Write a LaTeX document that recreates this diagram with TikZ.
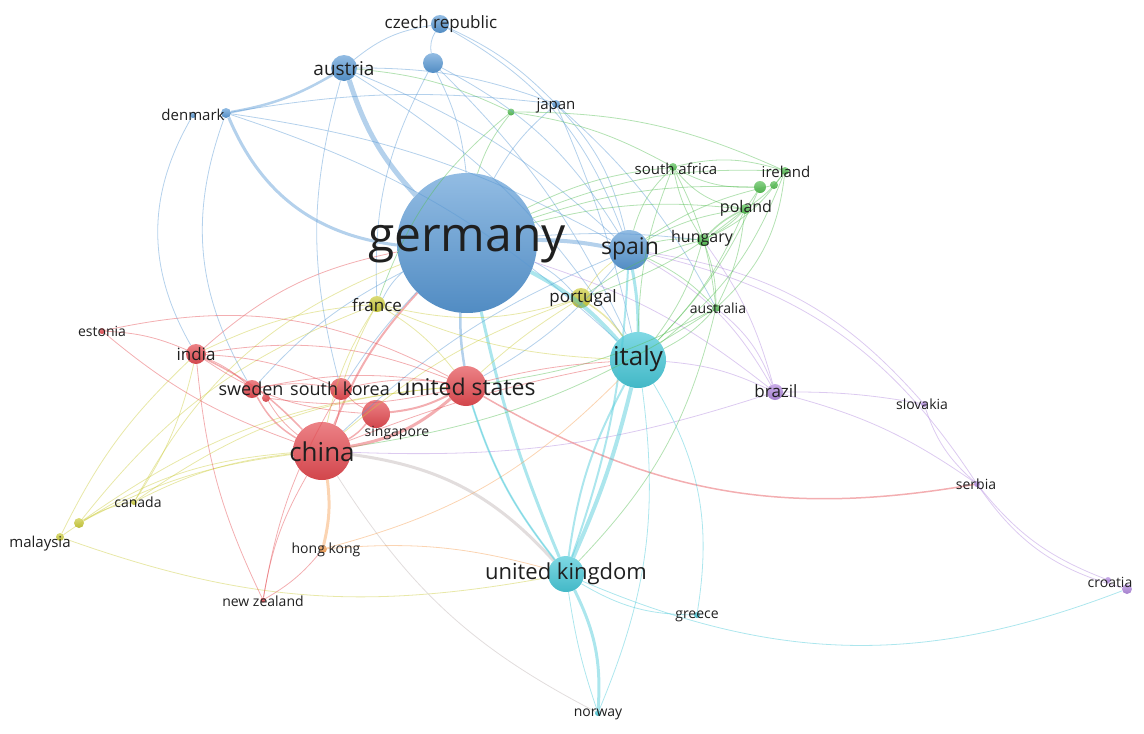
\documentclass[tikz,border=0pt]{standalone}
\usepackage{fontspec}
\setmainfont{Open Sans}
\usepackage{xcolor}
\usepackage{tikz}
\usetikzlibrary{positioning}

\definecolor{cblue}{RGB}{88,152,212}
\definecolor{cred}{RGB}{228,76,82}
\definecolor{cgreen}{RGB}{86,190,84}
\definecolor{cyell}{RGB}{204,204,62}
\definecolor{ccyan}{RGB}{72,200,216}
\definecolor{cpurp}{RGB}{178,138,222}
\definecolor{corange}{RGB}{246,160,84}
\definecolor{cgray}{RGB}{190,180,180}

\begin{document}
\begin{tikzpicture}[x=1pt, y=-1pt,
    bub/.style={circle, inner sep=0pt, minimum size=#1pt},
    nblue/.style={top color=cblue!65!white, bottom color=cblue!92!black},
    nred/.style={top color=cred!70!white, bottom color=cred!92!black},
    ngreen/.style={top color=cgreen!70!white, bottom color=cgreen!92!black},
    nyell/.style={top color=cyell!70!white, bottom color=cyell!92!black},
    ncyan/.style={top color=ccyan!70!white, bottom color=ccyan!92!black},
    npurp/.style={top color=cpurp!70!white, bottom color=cpurp!92!black},
    norange/.style={top color=corange!70!white, bottom color=corange!92!black},
    ed/.style={draw=#1, draw opacity=0.45, line width=0.8pt},
    lab/.style={inner sep=0pt, text=black!88, font=\fontsize{#1}{#1}\selectfont}]

    \useasboundingbox (0,0) rectangle (1144,734);

    \node [bub=140, nblue] (germany) at (467,243) {};
    \node [bub=18, nblue] (czech) at (440,24) {};
    \node [bub=20, nblue] (anon) at (433,63) {};
    \node [bub=26, nblue] (austria) at (344,68) {};
    \node [bub=10, nblue] (denmark) at (226,113) {};
    \node [bub=6, nblue] (denmarkb) at (193,115) {};
    \node [bub=8, nblue] (japan) at (556,104) {};
    \node [bub=40, nblue] (spain) at (629,250) {};
    \node [bub=7, ngreen] (greenj) at (511,112) {};
    \node [bub=8, ngreen] (safrica) at (673,167) {};
    \node [bub=8, ngreen] (ireland) at (785,171) {};
    \node [bub=12, ngreen] (irelandb) at (760,187) {};
    \node [bub=8, ngreen] (irelandc) at (774,185) {};
    \node [bub=10, ngreen] (poland) at (745,209) {};
    \node [bub=12, ngreen] (hungary) at (703,240) {};
    \node [bub=8, ngreen] (australia) at (716,308) {};
    \node [bub=20, nyell] (portugal) at (581,298) {};
    \node [bub=16, nyell] (france) at (377,304) {};
    \node [bub=6, nyell] (canada) at (134,502) {};
    \node [bub=8, nyell] (malaysia) at (60,537) {};
    \node [bub=10, nyell] (malaysiab) at (79,523) {};
    \node [bub=6, nred] (estonia) at (102,331) {};
    \node [bub=20, nred] (india) at (196,354) {};
    \node [bub=18, nred] (sweden) at (252,389) {};
    \node [bub=8, nred] (swedenb) at (266,398) {};
    \node [bub=22, nred] (skorea) at (341,389) {};
    \node [bub=40, nred] (usa) at (466,386) {};
    \node [bub=28, nred] (singapore) at (376,414) {};
    \node [bub=58, nred] (china) at (322,451) {};
    \node [bub=5, nred] (nzealand) at (263,600) {};
    \node [bub=8, norange] (hongkong) at (323,549) {};
    \node [bub=56, ncyan] (italy) at (638,360) {};
    \node [bub=36, ncyan] (uk) at (566,574) {};
    \node [bub=6, ncyan] (greece) at (697,615) {};
    \node [bub=6, ncyan] (norway) at (598,713) {};
    \node [bub=16, npurp] (brazil) at (775,392) {};
    \node [bub=6, npurp] (slovakia) at (924,404) {};
    \node [bub=6, npurp] (serbia) at (977,484) {};
    \node [bub=10, npurp] (croatia) at (1127,589) {};
    \node [bub=6, npurp] (croatiab) at (1108,580) {};

    \draw [ed=cblue] (austria) to[bend left=15] (czech);
    \draw [ed=cblue, line width=2.5pt] (denmark) to[bend right=10] (austria);
    \draw [ed=cblue, line width=5pt] (austria) to[bend right=12] (germany);
    \draw [ed=cblue, line width=3pt] (denmark) to[bend right=30] (germany);
    \draw [ed=cblue] (denmarkb) to[bend right=30] (india);
    \draw [ed=cblue] (denmark) to[bend right=25] (sweden);
    \draw [ed=cblue] (denmark) to[bend left=10] (spain);
    \draw [ed=cblue] (denmark) to[bend left=8] (japan);
    \draw [ed=cblue] (denmark) to[bend left=12] (italy);
    \draw [ed=cblue] (czech) to[bend right=20] (anon);
    \draw [ed=cblue] (czech) to[bend left=20] (spain);
    \draw [ed=cblue] (czech) to[bend left=10] (japan);
    \draw [ed=cblue] (anon) to[bend left=10] (germany);
    \draw [ed=cblue] (anon) to[bend left=15] (spain);
    \draw [ed=cblue] (anon) to[bend right=15] (france);
    \draw [ed=cblue] (anon) to[bend left=10] (italy);
    \draw [ed=cblue] (austria) to[bend left=10] (spain);
    \draw [ed=cblue] (austria) to[bend left=12] (italy);
    \draw [ed=cblue] (austria) to[bend left=10] (japan);
    \draw [ed=cblue] (austria) to[bend right=15] (skorea);
    \draw [ed=cblue] (japan) to[bend right=10] (germany);
    \draw [ed=cblue] (japan) to[bend left=15] (spain);
    \draw [ed=cblue] (japan) to[bend left=5] (italy);
    \draw [ed=cblue] (japan) to[bend left=10] (australia);
    \draw [ed=cblue, line width=4pt] (germany) to[bend left=5] (spain);
    \draw [ed=ccyan, line width=4pt] (germany) to[bend left=10] (italy);
    \draw [ed=ccyan, line width=3pt] (germany) to[bend right=5] (uk);
    \draw [ed=cblue, line width=2.5pt] (germany) to[bend right=5] (usa);
    \draw [ed=cred, line width=2pt] (germany) to[bend right=10] (china);
    \draw [ed=cblue] (germany) to[bend right=10] (france);
    \draw [ed=cblue] (germany) to[bend left=10] (portugal);
    \draw [ed=cblue] (germany) to[bend left=5] (hungary);
    \draw [ed=cgreen] (germany) to[bend left=10] (safrica);
    \draw [ed=cgreen] (germany) to[bend left=10] (poland);
    \draw [ed=cblue] (germany) to[bend right=10] (sweden);
    \draw [ed=cred] (germany) to[bend right=15] (india);
    \draw [ed=cblue] (germany) to[bend right=5] (skorea);
    \draw [ed=cpurp] (germany) to[bend left=10] (brazil);
    \draw [ed=cgreen] (germany) to[bend left=12] (ireland);
    \draw [ed=ccyan, line width=3pt] (spain) to[bend left=5] (italy);
    \draw [ed=ccyan, line width=2pt] (spain) to[bend left=8] (uk);
    \draw [ed=cyell] (spain) to[bend right=10] (portugal);
    \draw [ed=cgreen] (spain) to[bend left=10] (hungary);
    \draw [ed=cgreen] (spain) to[bend left=10] (australia);
    \draw [ed=cgreen] (spain) to[bend left=10] (poland);
    \draw [ed=cgreen] (spain) to[bend left=15] (safrica);
    \draw [ed=cblue] (spain) to[bend left=10] (usa);
    \draw [ed=cblue] (spain) to[bend right=10] (china);

    \draw [ed=cpurp] (spain) to[bend left=20] (slovakia);
    \draw [ed=cpurp] (spain) to[bend left=22] (serbia);
    \draw [ed=cpurp] (brazil) to[bend left=5] (slovakia);
    \draw [ed=cpurp] (brazil) to[bend left=10] (serbia);
    \draw [ed=cpurp] (slovakia) to[bend right=15] (serbia);
    \draw [ed=cpurp] (serbia) to[bend right=20] (croatia);
    \draw [ed=cpurp] (serbia) to[bend right=15] (croatiab);
    \draw [ed=cpurp] (brazil) to[bend right=15] (australia);
    \draw [ed=cpurp] (brazil) to[bend right=10] (italy);
    \draw [ed=cpurp] (brazil) to[bend left=10] (china);
    \draw [ed=cpurp] (brazil) to[bend right=15] (spain);
    \draw [ed=cpurp] (hungary) to[bend left=10] (brazil);
    \draw [ed=cred, line width=1.5pt] (usa) to[bend right=20] (serbia);

    \draw [ed=cgreen] (greenj) to[bend left=10] (safrica);
    \draw [ed=cgreen] (greenj) to[bend left=12] (ireland);
    \draw [ed=cgreen] (greenj) to[bend right=10] (germany);
    \draw [ed=cgreen] (greenj) to[bend right=15] (france);
    \draw [ed=cgreen] (greenj) to[bend right=10] (austria);
    \draw [ed=cgreen] (safrica) to[bend left=15] (ireland);
    \draw [ed=cgreen] (safrica) to[bend right=15] (irelandb);
    \draw [ed=cgreen] (safrica) to[bend right=20] (poland);
    \draw [ed=cgreen] (safrica) to[bend right=10] (hungary);
    \draw [ed=cgreen] (safrica) to[bend right=10] (italy);
    \draw [ed=cgreen] (safrica) to[bend left=10] (australia);
    \draw [ed=cgreen] (ireland) to[bend left=10] (poland);
    \draw [ed=cgreen] (ireland) to[bend left=15] (hungary);
    \draw [ed=cgreen] (ireland) to[bend left=20] (australia);
    \draw [ed=cgreen] (ireland) to[bend left=15] (italy);
    \draw [ed=cgreen] (irelandb) to[bend left=15] (hungary);
    \draw [ed=cgreen] (irelandb) to[bend left=10] (italy);
    \draw [ed=cgreen] (irelandb) to[bend right=10] (germany);
    \draw [ed=cgreen] (irelandc) to[bend right=10] (spain);
    \draw [ed=cgreen, line width=1.5pt] (poland) to[bend right=10] (hungary);
    \draw [ed=cgreen] (poland) to[bend left=10] (italy);
    \draw [ed=cgreen] (poland) to[bend left=10] (australia);
    \draw [ed=cgreen] (poland) to[bend left=10] (portugal);
    \draw [ed=cgreen] (hungary) to[bend left=10] (italy);
    \draw [ed=cgreen] (hungary) to[bend left=10] (australia);
    \draw [ed=cgreen] (hungary) to[bend right=10] (portugal);
    \draw [ed=cgreen] (australia) to[bend left=10] (italy);
    \draw [ed=cgreen] (australia) to[bend left=15] (uk);
    \draw [ed=cgreen] (australia) to[bend left=10] (usa);
    \draw [ed=cgreen] (australia) to[bend left=12] (china);

    \draw [ed=cyell] (france) to[bend right=10] (china);
    \draw [ed=cyell] (france) to[bend right=15] (portugal);
    \draw [ed=cyell] (france) to[bend left=10] (usa);
    \draw [ed=cyell] (france) to[bend right=10] (italy);
    \draw [ed=cyell] (france) to[bend right=5] (skorea);
    \draw [ed=cyell] (france) to[bend right=10] (india);
    \draw [ed=cyell, line width=1.5pt] (portugal) to[bend left=10] (italy);
    \draw [ed=cyell] (portugal) to[bend right=10] (china);
    \draw [ed=cyell] (portugal) to[bend right=5] (usa);
    \draw [ed=cyell] (canada) to[bend left=10] (china);
    \draw [ed=cyell] (canada) to[bend right=10] (india);
    \draw [ed=cyell] (canada) to[bend left=15] (usa);
    \draw [ed=cyell] (canada) to[bend right=10] (malaysiab);
    \draw [ed=cyell] (canada) to[bend left=20] (germany);
    \draw [ed=cyell] (malaysia) to[bend left=15] (china);
    \draw [ed=cyell] (malaysia) to[bend right=15] (uk);
    \draw [ed=cyell] (malaysia) to[bend left=10] (india);
    \draw [ed=cyell] (malaysiab) to[bend left=10] (china);
    \draw [ed=cyell] (malaysiab) to[bend left=15] (france);
    \draw [ed=cyell] (malaysiab) to[bend left=15] (usa);

    \draw [ed=cred] (estonia) to[bend left=10] (india);
    \draw [ed=cred] (estonia) to[bend left=20] (usa);
    \draw [ed=cred] (estonia) to[bend right=10] (china);
    \draw [ed=cred, line width=1.5pt] (india) to[bend left=10] (china);
    \draw [ed=cred] (india) to[bend left=15] (usa);
    \draw [ed=cred] (india) to[bend left=10] (sweden);
    \draw [ed=cred] (india) to[bend right=10] (nzealand);
    \draw [ed=cred] (india) to[bend right=15] (singapore);
    \draw [ed=cred] (india) to[bend left=10] (skorea);
    \draw [ed=cred, line width=1.5pt] (sweden) to[bend right=15] (china);
    \draw [ed=cred] (sweden) to[bend left=10] (usa);
    \draw [ed=cred] (sweden) to[bend left=10] (skorea);
    \draw [ed=cred] (swedenb) to[bend right=10] (china);
    \draw [ed=cred] (swedenb) to[bend right=10] (usa);
    \draw [ed=cred] (skorea) to[bend left=10] (china);
    \draw [ed=cred] (skorea) to[bend left=10] (usa);
    \draw [ed=cred] (skorea) to[bend right=10] (singapore);
    \draw [ed=cred, line width=3pt] (usa) to[bend left=15] (china);
    \draw [ed=cred, line width=2pt] (usa) to[bend left=10] (singapore);
    \draw [ed=cred] (usa) to[bend left=5] (italy);
    \draw [ed=ccyan] (usa) to[bend right=10] (uk);
    \draw [ed=cred, line width=1.5pt] (singapore) to[bend left=10] (china);
    \draw [ed=corange, line width=3pt] (china) to[bend left=10] (hongkong);
    \draw [ed=cred] (china) to[bend right=10] (nzealand);
    \draw [ed=cgray, line width=3pt] (china) to[bend left=20] (uk);
    \draw [ed=cred] (china) to[bend left=5] (italy);
    \draw [ed=cgray] (china) to[bend right=15] (norway);
    \draw [ed=cred] (nzealand) to[bend right=10] (hongkong);
    \draw [ed=cred] (nzealand) to[bend left=10] (skorea);
    \draw [ed=corange] (hongkong) to[bend left=10] (uk);
    \draw [ed=corange] (hongkong) to[bend right=15] (italy);

    \draw [ed=ccyan, line width=4pt] (italy) to[bend left=5] (uk);
    \draw [ed=ccyan, line width=2pt] (italy) to[bend right=10] (uk);
    \draw [ed=ccyan] (italy) to[bend left=20] (greece);
    \draw [ed=ccyan] (italy) to[bend left=15] (norway);
    \draw [ed=ccyan, line width=3pt] (uk) to[bend left=15] (norway);
    \draw [ed=ccyan] (uk) to[bend right=5] (norway);
    \draw [ed=ccyan] (uk) to[bend right=15] (greece);
    \draw [ed=ccyan] (uk) to[bend right=22] (croatia);
    \draw [ed=ccyan, line width=2pt] (uk) to[bend left=10] (usa);

    \node [lab=48] (lgermany) at (467,244) {germany};
    \node [lab=17] (lczech) at (441,24) {czech republic};
    \node [lab=19] (laustria) at (344,69) {austria};
    \node [lab=15] (ldenmark) at (193,115) {denmark};
    \node [lab=15] (ljapan) at (556,106) {japan};
    \node [lab=23] (lspain) at (630,249) {spain};
    \node [lab=15] (lsafrica) at (676,169) {south africa};
    \node [lab=15] (lireland) at (786,172) {ireland};
    \node [lab=16] (lpoland) at (746,208) {poland};
    \node [lab=16] (lhungary) at (702,238) {hungary};
    \node [lab=17] (lportugal) at (583,298) {portugal};
    \node [lab=14] (laustralia) at (718,308) {australia};
    \node [lab=17] (lfrance) at (377,305) {france};
    \node [lab=14] (lestonia) at (102,331) {estonia};
    \node [lab=17] (lindia) at (196,354) {india};
    \node [lab=18] (lsweden) at (251,389) {sweden};
    \node [lab=18] (lskorea) at (340,389) {south korea};
    \node [lab=23] (lusa) at (466,387) {united states};
    \node [lab=14] (lsingapore) at (397,433) {singapore};
    \node [lab=26] (lchina) at (322,452) {china};
    \node [lab=26] (litaly) at (638,359) {italy};
    \node [lab=17] (lbrazil) at (776,391) {brazil};
    \node [lab=14] (lslovakia) at (922,404) {slovakia};
    \node [lab=14] (lserbia) at (976,484) {serbia};
    \node [lab=14] (lcroatia) at (1110,582) {croatia};
    \node [lab=14] (lcanada) at (138,502) {canada};
    \node [lab=15] (lmalaysia) at (40,544) {malaysia};
    \node [lab=14] (lhongkong) at (326,550) {hong kong};
    \node [lab=14] (lnzealand) at (263,601) {new zealand};
    \node [lab=22] (luk) at (566,574) {united kingdom};
    \node [lab=14] (lgreece) at (697,616) {greece};
    \node [lab=14] (lnorway) at (598,714) {norway};
\end{tikzpicture}
\end{document}
